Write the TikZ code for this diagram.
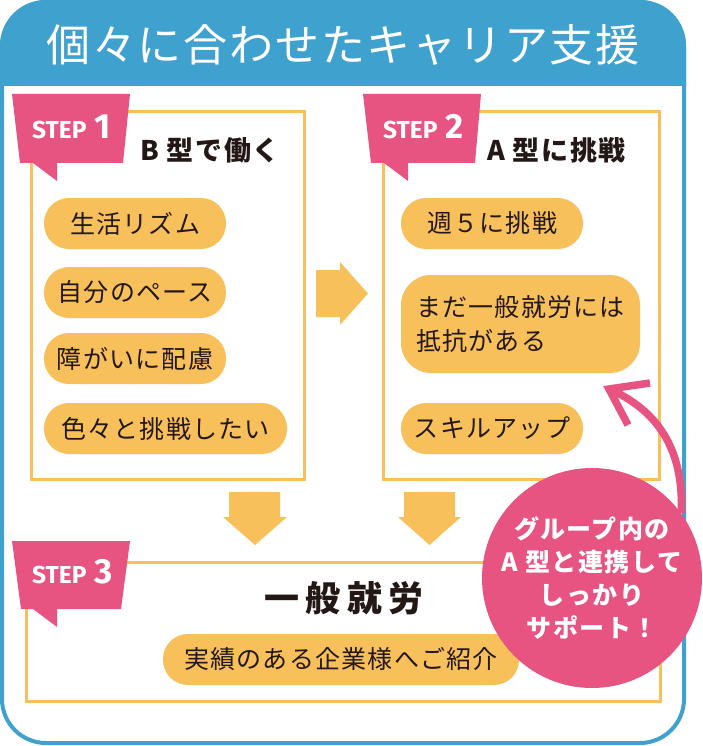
\documentclass[tikz,border=0pt]{standalone}
\usepackage{fontspec}
\setmainfont{Noto Sans CJK JP}
\newfontfamily\jpsp[LetterSpace=5]{Noto Sans CJK JP}
\newfontfamily\jptitle[LetterSpace=4]{Noto Sans CJK JP}
\newfontfamily\jphead[LetterSpace=6]{Noto Sans CJK JP}
\newfontfamily\jpwide[LetterSpace=18]{Noto Sans CJK JP}
\newfontfamily\jpcirc[LetterSpace=6]{Noto Sans CJK JP}
\newfontfamily\stepfont{Fira Sans}
\definecolor{bluec}{HTML}{3FA2CE}
\definecolor{pinkc}{HTML}{E85482}
\definecolor{orc}{HTML}{F8C05A}
\definecolor{txt}{HTML}{231815}
\tikzset{
  stepbox/.style={draw=orc, line width=3pt, fill=white, inner sep=0pt},
  pill/.style={fill=orc, rounded corners=25pt, inner sep=0pt, text=txt,
    font=\jpsp\fontsize{25}{34}\selectfont},
  tagshape/.style={fill=pinkc},
  steplbl/.style={text=white, inner sep=0pt, font=\stepfont\bfseries\fontsize{24.5}{24.5}\selectfont},
  stepnum/.style={text=white, inner sep=0pt, font=\stepfont\bfseries\fontsize{35}{35}\selectfont},
  heading/.style={text=txt, inner sep=0pt, font=\jphead\bfseries\fontsize{27}{27}\selectfont},
  blockarrow/.style={fill=orc},
}
\begin{document}
\begin{tikzpicture}[x=1pt,y=-1pt]
\useasboundingbox (0,0) rectangle (702,746);
% outer frame
\begin{scope}
\clip (0,0) rectangle (702,86);
\fill[bluec, rounded corners=46pt] (0,0) rectangle (686,746);
\end{scope}
\draw[bluec, line width=4pt, rounded corners=44pt] (2,2) rectangle (684,743);
\node[text=white, inner sep=0pt, font=\jptitle\fontsize{44}{44}\selectfont] (title) at (343,45) {個々に合わせたキャリア支援};

% step boxes
\node[stepbox, minimum width=273pt, minimum height=368pt, anchor=north west] (s1) at (30,110) {};
\node[stepbox, minimum width=276pt, minimum height=368pt, anchor=north west] (s2) at (382,110) {};
\node[stepbox, minimum width=634pt, minimum height=139pt, anchor=north west] (s3) at (25,561) {};

% tags
\fill[tagshape] (12,94) -- (130,94) -- (123,163) -- (57,163) -- (57,181) -- (33,163) -- (20,163) -- cycle;
\node[steplbl, anchor=base west] (t1a) at (32,139) {STEP};
\node[stepnum, anchor=base west] (t1b) at (94,139) {1};
\fill[tagshape] (363,94) -- (481,94) -- (475,163) -- (408,163) -- (408,181) -- (384,163) -- (371,163) -- cycle;
\node[steplbl, anchor=base west] (t2a) at (383,139) {STEP};
\node[stepnum, anchor=base west] (t2b) at (445,139) {2};
\fill[tagshape] (12,541) -- (130,541) -- (121,609) -- (57,609) -- (57,627) -- (33,609) -- (21,609) -- cycle;
\node[steplbl, anchor=base west] (t3a) at (32,583) {STEP};
\node[stepnum, anchor=base west] (t3b) at (94,583) {3};

% headings
\node[heading, anchor=west] (h1) at (140,150) {B 型で働く};
\node[heading, anchor=west] (h2) at (487,150) {A 型に挑戦};
\node[text=txt, inner sep=0pt, font=\jpwide\bfseries\fontsize{35}{35}\selectfont] (h3) at (344,598) {一般就労};

% pills step 1
\node[pill, minimum width=182pt, minimum height=51pt] (p1) at (135,223.5) {生活リズム};
\node[pill, minimum width=182pt, minimum height=51pt] (p2) at (135,292.5) {自分のペース};
\node[pill, minimum width=182pt, minimum height=51pt] (p3) at (135,358.5) {障がいに配慮};
\node[pill, minimum width=243pt, minimum height=51pt] (p4) at (165.5,428.5) {色々と挑戦したい};
% pills step 2
\node[pill, minimum width=182pt, minimum height=51pt] (p5) at (492,223.5) {週５に挑戦};
\node[pill, rounded corners=30pt, minimum width=239pt, minimum height=98pt, align=left] (p6) at (520.5,324) {まだ一般就労には\\抵抗がある};
\node[pill, minimum width=182pt, minimum height=51pt] (p7) at (492,428.5) {スキルアップ};
% pill step 3
\node[pill, minimum width=356pt, minimum height=51pt] (p8) at (341,659.5) {実績のある企業様へご紹介};

% block arrows
\fill[blockarrow] (316,270) -- (340,270) -- (340,262) -- (368,293.5) -- (340,325) -- (340,317) -- (316,317) -- cycle;
\fill[blockarrow] (229,492) -- (280,492) -- (280,517) -- (287,517) -- (255,545) -- (223,517) -- (229,517) -- cycle;
\fill[blockarrow] (404,492) -- (455,492) -- (455,517) -- (461,517) -- (429.5,545) -- (398,517) -- (404,517) -- cycle;

% support circle
\node[circle, fill=pinkc, minimum size=220pt, inner sep=0pt, text=white, align=center,
  font=\jpcirc\bfseries\fontsize{25}{33}\selectfont] (sup) at (592,578)
  {グループ内の\\A 型と連携して\\しっかり\\サポート！};

% curved arrow
\coordinate (tip) at (609,389);
\draw[pinkc, line width=7.5pt] (sup.36) .. controls (684,455) and (662,412) .. (tip);
\draw[pinkc, line width=7.5pt, line join=miter, miter limit=10] (650,383) -- (tip) -- (628,425);
\end{tikzpicture}
\end{document}
